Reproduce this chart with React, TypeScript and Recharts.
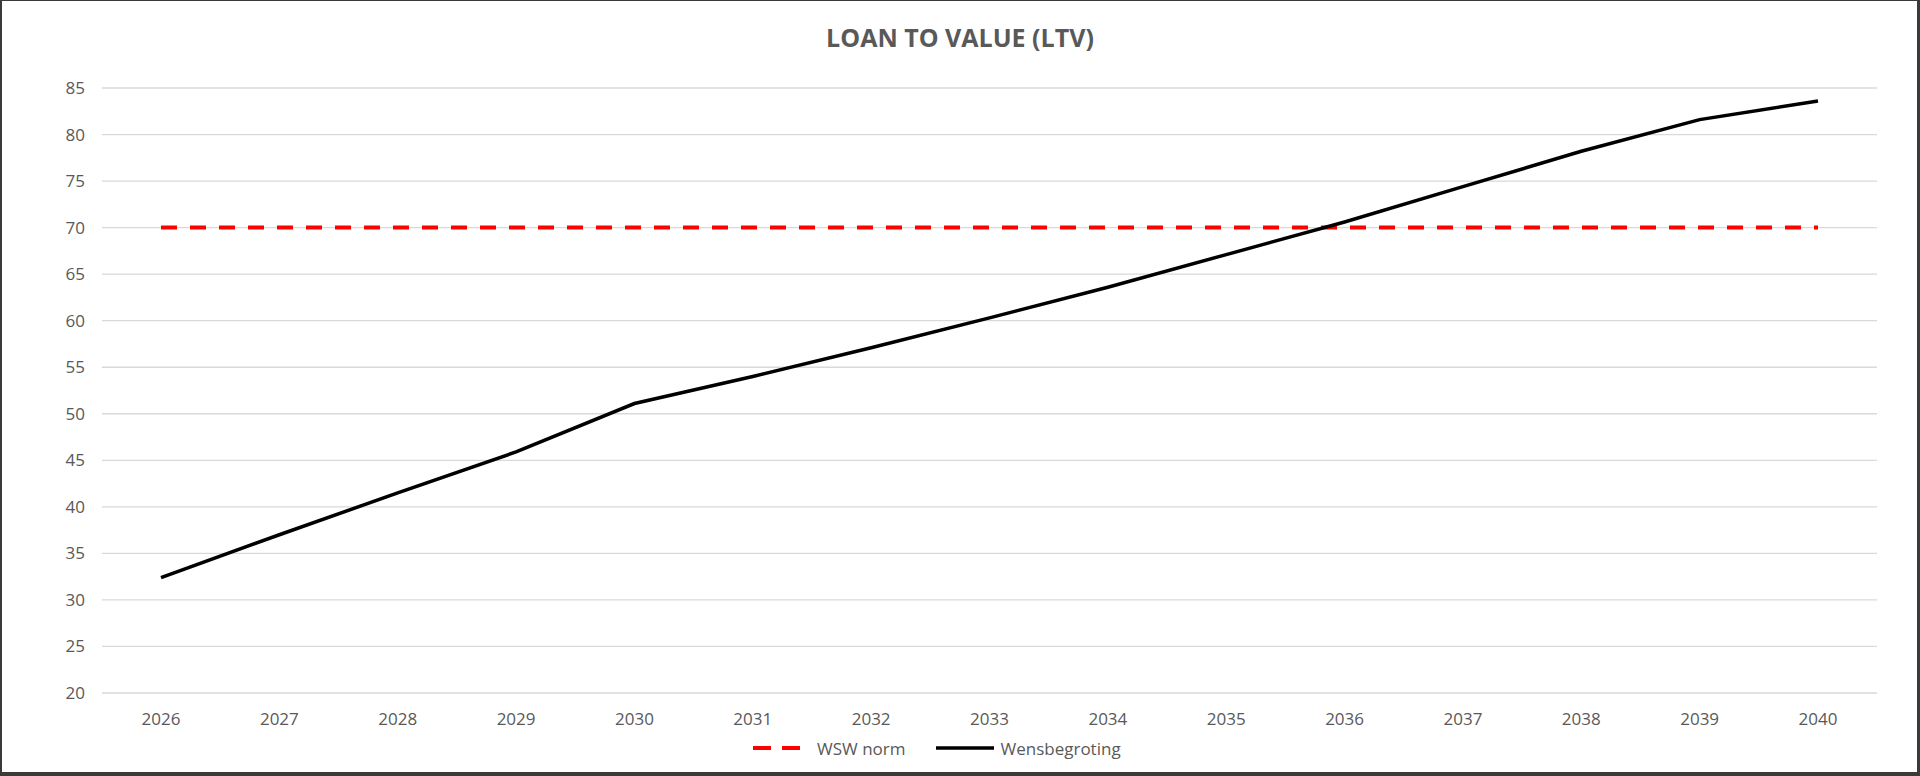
import React from "react";
import {
  LineChart,
  Line,
  XAxis,
  YAxis,
  CartesianGrid,
  Legend,
} from "recharts";

const years = [
  "2026", "2027", "2028", "2029", "2030", "2031", "2032", "2033",
  "2034", "2035", "2036", "2037", "2038", "2039", "2040",
];
const wswNorm = [70, 70, 70, 70, 70, 70, 70, 70, 70, 70, 70, 70, 70, 70, 70];
const wensbegroting = [
  32.4, 37.0, 41.5, 45.9, 51.1, 54.0, 57.1, 60.3, 63.6, 67.1, 70.6, 74.4, 78.2, 81.6, 83.6,
];
const yTicks = [20, 25, 30, 35, 40, 45, 50, 55, 60, 65, 70, 75, 80, 85];

const data = years.map((year, i) => ({
  year,
  wsw: wswNorm[i],
  wens: wensbegroting[i],
}));

const FONT = "'Open Sans', sans-serif";
const TEXT = "#595959";

function LegendBox() {
  return (
    <div
      style={{
        height: 28,
        display: "flex",
        alignItems: "center",
        paddingLeft: 753,
        fontFamily: FONT,
        fontSize: 17,
        color: TEXT,
      }}
    >
      <svg width={47} height={6}>
        <line x1={0} y1={3} x2={47} y2={3} stroke="#ff0000" strokeWidth={4} strokeDasharray="18 11" />
      </svg>
      <span style={{ marginLeft: 17 }}>WSW norm</span>
      <svg width={58} height={6} style={{ marginLeft: 31 }}>
        <line x1={0} y1={3} x2={58} y2={3} stroke="#000000" strokeWidth={3.5} />
      </svg>
      <span style={{ marginLeft: 6 }}>Wensbegroting</span>
    </div>
  );
}

export default function App() {
  return (
    <div style={{ position: "absolute", left: 0, top: 0, width: 1920, height: 776, background: "#fff" }}>
      <div
        style={{
          position: "absolute",
          top: 21,
          left: 0,
          width: 1920,
          textAlign: "center",
          fontFamily: FONT,
          fontWeight: 700,
          fontSize: 25,
          lineHeight: "32px",
          color: TEXT,
        }}
      >
        LOAN TO VALUE (LTV)
      </div>
      <LineChart
        width={1920}
        height={776}
        data={data}
        margin={{ top: 88, right: 43, left: 42, bottom: 25 }}
      >
        <CartesianGrid vertical={false} stroke="#d9d9d9" strokeWidth={1.3} />
        <XAxis
          dataKey="year"
          height={30}
          padding={{ left: 59, right: 59 }}
          axisLine={false}
          tickLine={false}
          tickSize={0}
          tickMargin={20}
          interval={0}
          tick={{ fill: TEXT, fontSize: 17, fontFamily: FONT }}
        />
        <YAxis
          width={60}
          domain={[20, 85]}
          ticks={yTicks}
          interval={0}
          axisLine={false}
          tickLine={false}
          tickSize={0}
          tickMargin={17}
          tick={{ fill: TEXT, fontSize: 17, fontFamily: FONT }}
        />
        <Legend
          verticalAlign="bottom"
          content={() => <LegendBox />}
          wrapperStyle={{ top: 734, bottom: "auto", left: 0, width: 1920 }}
        />
        <Line
          dataKey="wsw"
          name="WSW norm"
          stroke="#ff0000"
          strokeWidth={4}
          strokeDasharray="16 13"
          dot={false}
          activeDot={false}
          isAnimationActive={false}
        />
        <Line
          dataKey="wens"
          name="Wensbegroting"
          stroke="#000000"
          strokeWidth={3.5}
          dot={false}
          activeDot={false}
          isAnimationActive={false}
        />
      </LineChart>
      <div
        style={{
          position: "absolute",
          left: 0,
          top: 0,
          width: 1920,
          height: 776,
          boxSizing: "border-box",
          borderStyle: "solid",
          borderColor: "#3a3a3a",
          borderWidth: "1px 3px 4px 2px",
          pointerEvents: "none",
        }}
      />
    </div>
  );
}
